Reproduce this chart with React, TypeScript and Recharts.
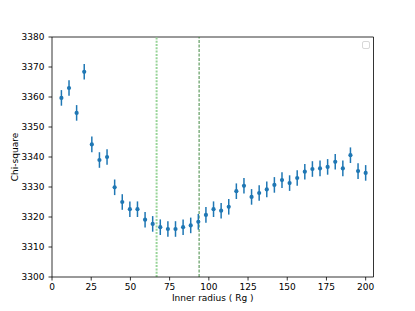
import React from 'react';
import {
  ScatterChart,
  Scatter,
  XAxis,
  YAxis,
  ErrorBar,
  ReferenceLine,
  Legend,
} from 'recharts';

// Inner radius (Rg)
const radii = [
  6.0, 10.85, 15.7, 20.55, 25.4, 30.25, 35.1, 39.95, 44.8, 49.65,
  54.5, 59.35, 64.2, 69.05, 73.9, 78.75, 83.6, 88.45, 93.3, 98.15,
  103.0, 107.85, 112.7, 117.55, 122.4, 127.25, 132.1, 136.95, 141.8, 146.65,
  151.5, 156.35, 161.2, 166.05, 170.9, 175.75, 180.6, 185.45, 190.3, 195.15,
  200.0,
];

// Chi-square values
const chiSquare = [
  3359.7, 3363.0, 3354.7, 3368.4, 3344.2, 3339.0, 3340.0, 3329.9, 3325.0, 3322.6,
  3322.6, 3319.1, 3317.7, 3316.6, 3316.0, 3316.0, 3316.6, 3317.2, 3318.4, 3320.7,
  3322.6, 3322.1, 3323.4, 3328.6, 3330.4, 3326.7, 3328.0, 3329.2, 3330.7, 3332.3,
  3331.3, 3333.0, 3335.1, 3336.0, 3336.2, 3336.7, 3338.4, 3336.2, 3340.6, 3335.3,
  3334.7,
];

// symmetric error (±)
const chiErr = [
  2.6, 2.6, 2.6, 2.6, 2.6, 2.6, 2.6, 2.6, 2.6, 2.6,
  2.6, 2.6, 2.6, 2.6, 2.6, 2.6, 2.6, 2.6, 2.6, 2.6,
  2.6, 2.6, 2.6, 2.6, 2.6, 2.6, 2.6, 2.6, 2.6, 2.6,
  2.6, 2.6, 2.6, 2.6, 2.6, 2.6, 2.6, 2.6, 2.6, 2.6,
  2.6,
];

const xTicks = [0, 25, 50, 75, 100, 125, 150, 175, 200];
const yTicks = [3300, 3310, 3320, 3330, 3340, 3350, 3360, 3370, 3380];
const xDomain = [0, 205];
const yDomain = [3300, 3380];
const greenLineX = 66.7;
const darkLineX = 93.8;

const data = radii.map((x, i) => ({ x, y: chiSquare[i], err: chiErr[i] }));

const FONT = '"DejaVu Sans", sans-serif';
const BLUE = '#1f77b4';

const XLabel = (props: any) => {
  const vb = props.viewBox || {};
  const cx = vb.x + vb.width / 2;
  return (
    <text x={cx} y={301} textAnchor="middle" fontSize={9} fontFamily={FONT} fill="#000">
      Inner radius ( Rg )
    </text>
  );
};

const YLabel = (props: any) => {
  const vb = props.viewBox || {};
  const cy = vb.y + vb.height / 2;
  const x = 14.8;
  return (
    <text
      x={x}
      y={cy}
      transform={`rotate(-90 ${x} ${cy})`}
      textAnchor="middle"
      dominantBaseline="central"
      fontSize={9}
      fontFamily={FONT}
      fill="#000"
    >
      Chi-square
    </text>
  );
};

const Dot = (props: any) => {
  const { cx, cy } = props;
  if (cx == null || cy == null) return null;
  return <circle cx={cx} cy={cy} r={2.1} fill={BLUE} />;
};

const EmptyLegend = () => (
  <div
    style={{
      width: 6,
      height: 6,
      border: '1px solid #d8d8d8',
      borderRadius: 2,
      background: 'rgba(255,255,255,0.8)',
    }}
  />
);

export default function App() {
  return (
    <div style={{ position: 'absolute', left: 0, top: 0, background: '#fff' }}>
      <ScatterChart
        width={415}
        height={311}
        margin={{ top: 37, right: 41.5, bottom: 0, left: 0 }}
      >
        <XAxis
          type="number"
          dataKey="x"
          domain={xDomain}
          ticks={xTicks}
          allowDataOverflow
          tickSize={3.5}
          tickMargin={3.5}
          height={34}
          axisLine={{ stroke: '#000', strokeWidth: 0.8 }}
          tickLine={{ stroke: '#000', strokeWidth: 0.8 }}
          tick={{ fontSize: 9, fontFamily: FONT, fill: '#000' }}
          label={<XLabel />}
        />
        <YAxis
          type="number"
          dataKey="y"
          domain={yDomain}
          ticks={yTicks}
          allowDataOverflow
          width={52}
          tickSize={3.5}
          tickMargin={4}
          axisLine={{ stroke: '#000', strokeWidth: 0.8 }}
          tickLine={{ stroke: '#000', strokeWidth: 0.8 }}
          tick={{ fontSize: 9, fontFamily: FONT, fill: '#000' }}
          label={<YLabel />}
        />
        <ReferenceLine y={yDomain[1]} stroke="#000" strokeWidth={0.8} />
        <ReferenceLine x={xDomain[1]} stroke="#000" strokeWidth={0.8} />
        <ReferenceLine
          x={greenLineX}
          stroke="#98d498"
          strokeWidth={2}
          strokeDasharray="2 1.3"
        />
        <ReferenceLine
          x={darkLineX}
          stroke="#2a7a2a"
          strokeWidth={0.9}
          strokeDasharray="3 1.5"
        />
        <Legend
          layout="horizontal"
          verticalAlign="middle"
          align="center"
          content={() => <EmptyLegend />}
          wrapperStyle={{ position: 'absolute', left: 362, top: 41, width: 10, height: 10 }}
        />
        <Scatter data={data} fill={BLUE} isAnimationActive={false} shape={<Dot />}>
          <ErrorBar
            dataKey="err"
            direction="y"
            width={0}
            stroke={BLUE}
            strokeWidth={1.5}
            isAnimationActive={false}
          />
        </Scatter>
      </ScatterChart>
    </div>
  );
}
